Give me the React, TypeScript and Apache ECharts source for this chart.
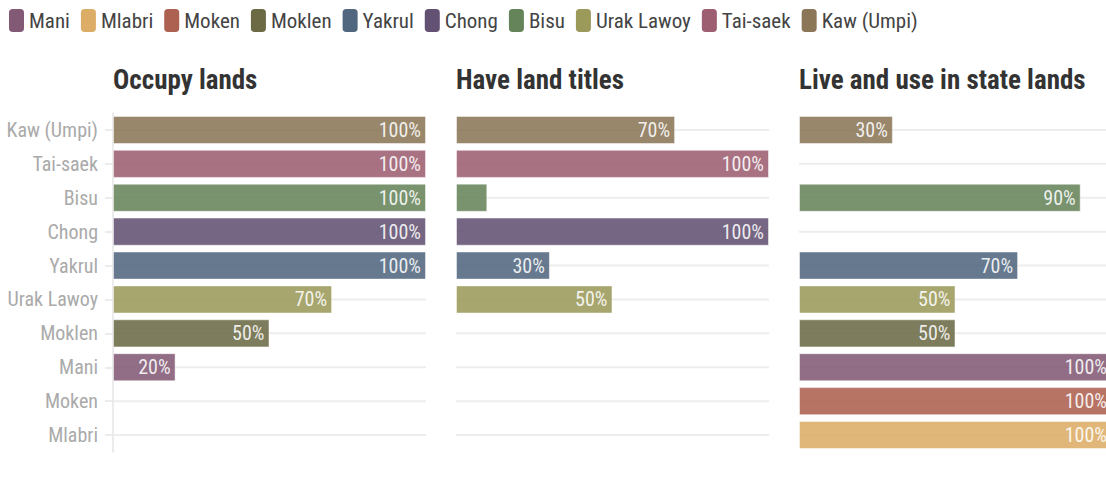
import React, { useEffect, useRef } from "react";
import * as echarts from "echarts";

const categories = ["Kaw (Umpi)", "Tai-saek", "Bisu", "Chong", "Yakrul", "Urak Lawoy", "Moklen", "Mani", "Moken", "Mlabri"];
const legendOrder = ["Mani", "Mlabri", "Moken", "Moklen", "Yakrul", "Chong", "Bisu", "Urak Lawoy", "Tai-saek", "Kaw (Umpi)"];
const categoryColors = ["#8b7658", "#9d5e71", "#65845a", "#625172", "#51677f", "#9b9a5a", "#6b6a45", "#835a75", "#ad6150", "#dcad67"];

const occupyLands = [100, 100, 100, 100, 100, 70, 50, 20, null, null];
const landTitles = [70, 100, 10, 100, 30, 50, null, null, null, null];
const stateLands = [30, null, 90, null, 70, 50, 50, 100, 100, 100];

const panelTitles = ["Occupy lands", "Have land titles", "Live and use in state lands"];
const panelValues = [occupyLands, landTitles, stateLands];

const FONT = "'Liberation Sans Narrow', 'Roboto Condensed', 'DejaVu Sans Condensed', sans-serif";

export default function App() {
  const ref = useRef<HTMLDivElement>(null);
  useEffect(() => {
    if (!ref.current) return;
    const chart = echarts.init(ref.current, null, { renderer: "svg" });
    const lefts = [113, 456, 799];
    const gridW = 313;

    const grids = lefts.map((l) => ({ left: l, top: 113, width: gridW, height: 339, containLabel: false }));
    const xAxes = lefts.map((_, p) => ({
      type: "value",
      gridIndex: p,
      min: 0,
      max: 100,
      show: false,
    }));
    const yAxes = lefts.map((_, p) => ({
      type: "category",
      gridIndex: p,
      data: categories,
      inverse: true,
      axisLine: { show: p === 0, lineStyle: { color: "#e6e6e6", width: 1.5 } },
      axisTick: { show: p === 0, alignWithLabel: true, length: 8, lineStyle: { color: "#e6e6e6", width: 1.5 } },
      axisLabel: { show: p === 0, margin: 15, fontSize: 20, color: "#aaaaaa", fontFamily: FONT },
      splitLine: { show: false },
    }));

    const series: any[] = [];
    lefts.forEach((_, p) => {
      series.push({
        type: "custom",
        xAxisIndex: p,
        yAxisIndex: p,
        silent: true,
        z: 1,
        data: categories.map((c) => [0, c]),
        encode: { x: 0, y: 1 },
        renderItem: (params: any, api: any) => {
          const idx = api.value(1);
          const a = api.coord([0, idx]);
          const b = api.coord([100, idx]);
          return {
            type: "line",
            shape: { x1: a[0], y1: a[1], x2: b[0], y2: b[1] },
            style: { stroke: "#ededed", lineWidth: 2 },
          };
        },
      });
      categories.forEach((cat, i) => {
        const v = panelValues[p][i];
        series.push({
          type: "bar",
          name: cat,
          xAxisIndex: p,
          yAxisIndex: p,
          stack: "panel" + p,
          z: 2,
          barCategoryGap: "17%",
          data: categories.map((_, j) => (j === i && v !== null ? v : null)),
          itemStyle: { color: categoryColors[i], opacity: 0.88, borderColor: "rgba(255,255,255,0.55)", borderWidth: 1 },
          label: {
            show: true,
            position: "insideRight",
            distance: 5,
            color: "#ffffff",
            fontSize: 20,
            fontFamily: FONT,
            formatter: (d: any) => (d.value == null || d.value < 15 ? "" : d.value + "%"),
          },
        });
      });
    });

    chart.setOption({
      animation: false,
      textStyle: { fontFamily: FONT },
      title: panelTitles.map((t, p) => ({
        text: t,
        left: lefts[p],
        top: 66,
        padding: 0,
        textStyle: { fontSize: 27, fontWeight: "bold", color: "#333333", fontFamily: FONT },
      })),
      legend: {
        left: 9,
        top: 9,
        padding: 0,
        itemWidth: 15,
        itemHeight: 23,
        itemGap: 11,
        icon: "roundRect",
        data: legendOrder,
        itemStyle: { opacity: 1, borderWidth: 0 },
        textStyle: { fontSize: 21, color: "#444444", fontFamily: FONT },
      },
      grid: grids,
      xAxis: xAxes,
      yAxis: yAxes,
      series,
    });
    return () => chart.dispose();
  }, []);
  return (
    <div style={{ position: "absolute", left: 0, top: 0, width: 1106, height: 482, overflow: "hidden" }}>
      <div ref={ref} style={{ width: 1120, height: 482 }} />
    </div>
  );
}
